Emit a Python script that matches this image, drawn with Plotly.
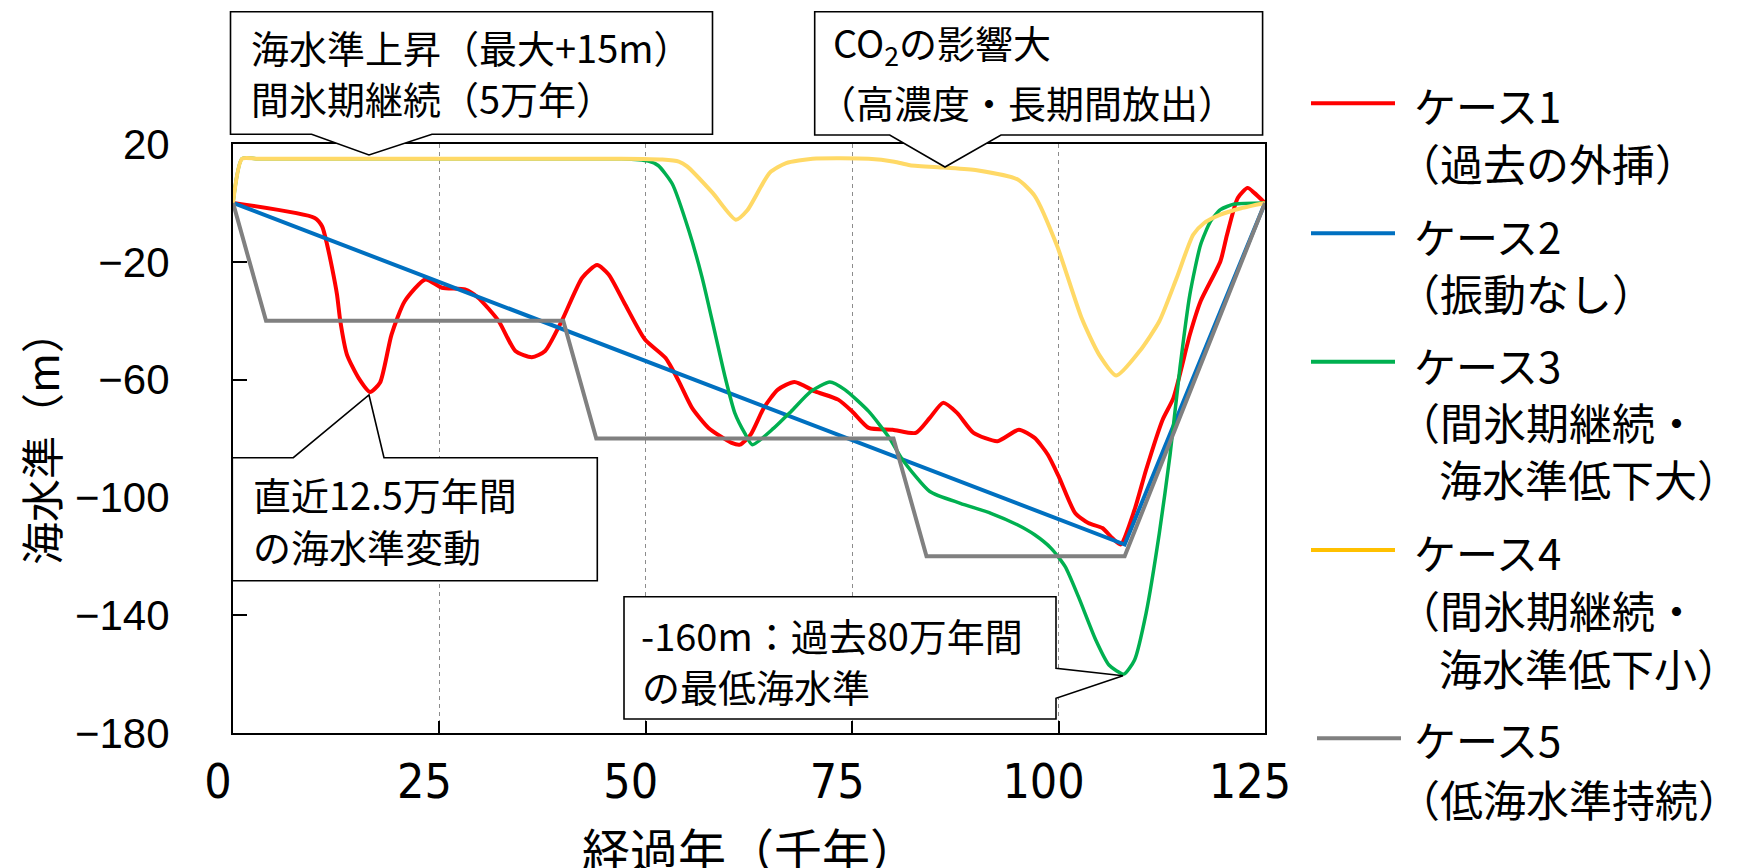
import plotly.graph_objects as go

# ---------------- data ----------------
case1_x = [0, 9.9, 10.8, 11.4, 12.0, 12.6, 13.0, 13.8, 15.2, 16.6,
           17.8, 19.2, 20.8, 23.3, 25.3, 28.1, 29.7, 32.2, 34.2, 36.2,
           37.8, 39.8, 42.3, 44.1, 45.5, 47.5, 49.9, 52.4, 54.0, 55.6,
           57.6, 60.4, 61.4, 62.7, 64.3, 66.0, 68.0, 70.5, 73.3, 75.0,
           77.0, 79.9, 82.7, 84.4, 86.0, 87.7, 89.7, 92.6, 95.2, 97.1,
           98.7, 100.0, 102.0, 103.6, 105.3, 106.5, 107.5, 109.2, 110.6, 112.6,
           113.9, 115.9, 117.2, 119.6, 120.4, 121.7, 122.9, 123.7, 125]
case1_y = [0, -5.1, -8.0, -14.2, -22.1, -31.2, -40.2, -51.5, -59.4, -64.2,
           -61.1, -44.7, -33.4, -26.0, -28.8, -29.4, -32.2, -40.2, -50.3, -52.4,
           -50.3, -40.2, -25.4, -21.1, -24.3, -34.5, -46.4, -52.7, -60.6, -69.6,
           -76.4, -81.5, -82.1, -78.7, -69.6, -63.4, -60.8, -64.0, -66.8, -70.8,
           -76.4, -77.0, -78.1, -73.0, -67.9, -71.3, -78.1, -80.9, -77.0, -79.8,
           -85.5, -92.8, -105.3, -108.7, -110.4, -113.8, -116.0, -104.2, -90.6, -73.6,
           -66.3, -44.7, -33.4, -19.8, -10.8, 1.7, 5.1, 3.4, 0]

case2_x = [0, 108, 125]
case2_y = [0, -116, 0]

case3_x = [0, 1.1, 3, 45, 47.1, 50.3, 51.5, 53.2, 55.2, 56.8,
           58.4, 59.6, 60.8, 62.0, 62.9, 65.5, 67.6, 70.0, 72.3, 74.1,
           77.0, 79.5, 81.1, 84.4, 88.1, 91.8, 95.0, 97.1, 99.1, 100.8,
           102.4, 104.5, 106.1, 107.9, 109.2, 110.6, 112.2, 113.5, 114.7, 115.9,
           117.2, 118.4, 119.6, 121.3, 125]
case3_y = [0, 15, 15, 15, 15, 14.2, 12.7, 6.5, -9.3, -25.1,
           -44.4, -59.1, -71.5, -78.3, -82.1, -76.5, -70.8, -64.0, -60.8, -63.4,
           -70.8, -79.8, -87.2, -98.0, -102.0, -105.4, -109.3, -112.7, -117.3, -123.5,
           -133.7, -148.4, -156.9, -160.0, -155.2, -139.3, -112.2, -85.5, -56.0, -31.1,
           -14.2, -6.3, -2.3, -0.4, 0]

case4_x = [0, 1.1, 3, 45, 49.7, 52.0, 54.0, 55.0, 58.1, 60.9,
           62.3, 65.0, 67.0, 70.2, 77.0, 80.1, 82.0, 86.2, 90.1, 95.0,
           97.1, 99.8, 102.8, 104.9, 107.0, 109.8, 112.2, 114.3, 116.3, 117.6,
           119.6, 122.1, 125]
case4_y = [0, 15, 15, 15, 14.9, 14.7, 14.0, 12.4, 3.4, -5.7,
           -2.5, 10.2, 13.5, 15.0, 15.0, 14.0, 12.8, 12.0, 11.1, 8.0,
           2.4, -14.5, -39.2, -51.5, -58.6, -50.4, -40.2, -25.5, -10.8, -6.9,
           -4.0, -1.8, 0]

case5_x = [0, 4, 40, 44, 80, 84, 108, 125]
case5_y = [0, -40, -40, -80, -80, -120, -120, 0]

x_ticks = [0, 25, 50, 75, 100, 125]
y_ticks = [20, -20, -60, -100, -140, -180]

names = ["ケース1", "ケース2", "ケース3", "ケース4", "ケース5"]
legend_sub = [["（過去の外挿）"], ["（振動なし）"], ["（間氷期継続・", "海水準低下大）"],
              ["（間氷期継続・", "海水準低下小）"], ["（低海水準持続）"]]
colors = ["#FF0000", "#0070C0", "#00B050", "#FFC000", "#808080"]
line_colors = ["#FF0000", "#0070C0", "#00B050", "#FFD966", "#808080"]

callout_lines = [
    ["海水準上昇（最大+15m）", "間氷期継続（5万年）"],
    ["CO<sub>2</sub>の影響大", "（高濃度・長期間放出）"],
    ["直近12.5万年間", "の海水準変動"],
    ["-160m：過去80万年間", "の最低海水準"],
]

# ---------------- layout geometry ----------------
# The page body has an 8px margin, so the figure is drawn 8px right/down.
OFF = 8
FW, FH = 1738, 860
ML, MR, MT, MB = 225, 481, 136, 135
PW = FW - ML - MR            # 1032
PH = FH - MT - MB            # 589
SCR_L = ML + OFF             # plot left on screen (233)
SCR_B = FH - MB + OFF        # plot bottom on screen (733)


def px(x):
    return (x - SCR_L) / PW


def py(y):
    return (SCR_B - y) / PH


def poly(points):
    return "M " + " L ".join(f"{px(a):.5f},{py(b):.5f}" for a, b in points) + " Z"


CJK = "Noto Sans CJK JP, Noto Sans CJK SC, sans-serif"

fig = go.Figure()
series = [(case1_x, case1_y, "spline", 4), (case2_x, case2_y, "linear", 4),
          (case3_x, case3_y, "spline", 3.5), (case4_x, case4_y, "spline", 4),
          (case5_x, case5_y, "linear", 4)]
for i, (xs, ys, shp, lw) in enumerate(series):
    line = dict(color=line_colors[i], width=lw, shape=shp)
    if shp == "spline":
        line["smoothing"] = 0.6
    fig.add_trace(go.Scatter(x=xs, y=ys, mode="lines", name=names[i], line=line,
                             showlegend=False, hoverinfo="skip"))

shapes = []
annotations = []

# callout boxes (screen pixel coordinates)
callouts = [
    [(230.5, 11.7), (712.5, 11.7), (712.5, 134.3), (432, 134.3), (369, 155),
     (311.6, 134.3), (230.5, 134.3)],
    [(814.7, 11.7), (1262.6, 11.7), (1262.6, 135), (1001, 135), (945, 167),
     (889.7, 135), (814.7, 135)],
    [(232.3, 457.7), (293.3, 457.7), (369, 395), (384, 457.7), (597.3, 457.7),
     (597.3, 580.7), (232.3, 580.7)],
    [(624, 596.7), (1056, 596.7), (1056, 668.3), (1123, 675.7), (1056, 698.3),
     (1056, 719), (624, 719)],
]
for pts in callouts:
    shapes.append(dict(type="path", path=poly(pts), xref="paper", yref="paper",
                       line=dict(color="black", width=1.6), fillcolor="white",
                       layer="above"))

callout_pos = [[(250, 46.7), (250, 97.5)],
               [(832, 44.5), (817, 101)],
               [(252, 493.3), (252, 545)],
               [(640, 634), (641, 685)]]
for lines, pos in zip(callout_lines, callout_pos):
    for t, (x, y) in zip(lines, pos):
        annotations.append(dict(x=px(x), y=py(y), xref="paper", yref="paper", text=t,
                                showarrow=False, xanchor="left", yanchor="middle",
                                borderpad=0,
                                font=dict(family=CJK, size=38, color="black")))

# legend (drawn manually)
leg_line_y = [103.3, 233.3, 361.7, 550, 738.3]
leg_text_y = [104, 235, 364, 551.7, 738.3]
leg_sub_y = [[161.5], [292], [421, 478], [609, 666.7], [797.5]]
for i in range(5):
    x0, x1 = (1317, 1401) if i == 4 else (1311, 1395)
    shapes.append(dict(type="line", xref="paper", yref="paper",
                       x0=px(x0), x1=px(x1), y0=py(leg_line_y[i]), y1=py(leg_line_y[i]),
                       line=dict(color=colors[i], width=4)))
    annotations.append(dict(x=px(1413), y=py(leg_text_y[i]), xref="paper", yref="paper",
                            text=names[i], showarrow=False, xanchor="left", yanchor="middle",
                            borderpad=0,
                            font=dict(family=CJK, size=42, color="black")))
    for t, yy in zip(legend_sub[i], leg_sub_y[i]):
        xx = 1396 if t.startswith("（") else 1438
        annotations.append(dict(x=px(xx), y=py(yy), xref="paper", yref="paper",
                                text=t, showarrow=False, xanchor="left", yanchor="middle",
                                borderpad=0,
                                font=dict(family=CJK, size=43, color="black")))

# axis titles
annotations.append(dict(x=px(750), y=py(848), xref="paper", yref="paper",
                        text="経過年（千年）", showarrow=False, xanchor="center",
                        yanchor="middle", borderpad=0,
                        font=dict(family=CJK, size=48, color="black")))
annotations.append(dict(x=px(40), y=py(438), xref="paper", yref="paper",
                        text="海水準（m）", showarrow=False, xanchor="center",
                        yanchor="middle", textangle=-90,
                        font=dict(family=CJK, size=43, color="black")))

fig.update_layout(
    width=FW, height=FH,
    margin=dict(l=ML, r=MR, t=MT, b=MB, autoexpand=False),
    paper_bgcolor="white", plot_bgcolor="white",
    showlegend=False,
    shapes=shapes, annotations=annotations,
    xaxis=dict(range=[0, 125], tickvals=x_ticks, ticktext=[str(v) for v in x_ticks],
               showgrid=True, gridcolor="#8C8C8C", gridwidth=1, griddash="4px,4px",
               zeroline=False, showline=True, mirror=True, linecolor="black", linewidth=2,
               ticks="inside", ticklen=12, tickwidth=1.5, tickcolor="black",
               ticklabelshift=-15, ticklabelstandoff=5,
               tickfont=dict(family="Liberation Sans Narrow, DejaVu Sans Condensed, Liberation Sans",
                             size=48, color="black"),
               automargin=False, fixedrange=True),
    yaxis=dict(range=[-180, 20], tickvals=y_ticks,
               showgrid=False, zeroline=False, showline=True, mirror=True,
               linecolor="black", linewidth=2,
               ticks="inside", ticklen=14, tickwidth=1.5, tickcolor="black",
               ticklabelstandoff=53,
               tickfont=dict(family="Liberation Sans, Arial, sans-serif", size=42, color="black"),
               automargin=False, fixedrange=True),
)

fig.write_html("out.html")
